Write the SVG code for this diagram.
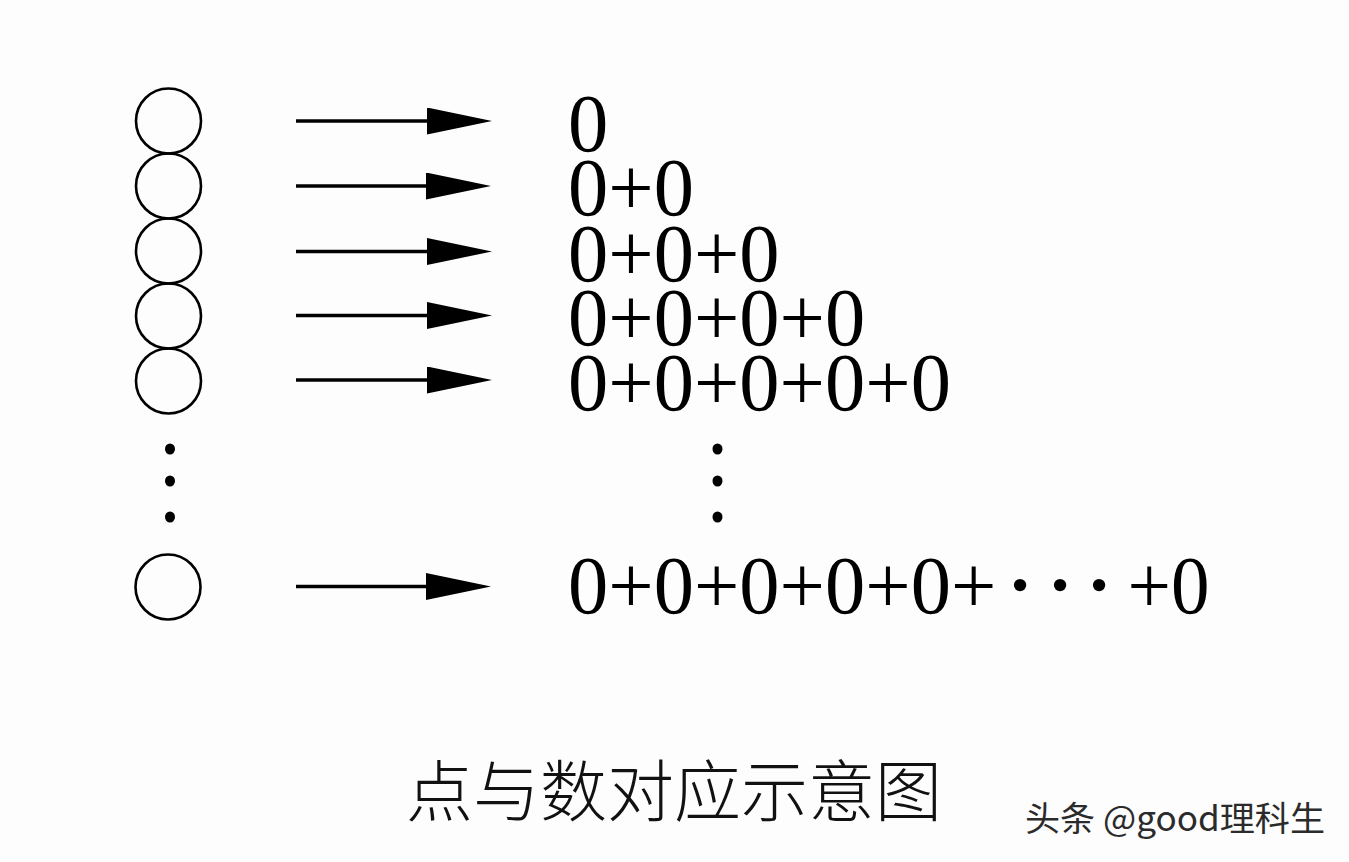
<svg xmlns="http://www.w3.org/2000/svg" width="1349" height="862" viewBox="0 0 1349 862">
<defs>
<style>
.pt{fill:none;stroke:#000;stroke-width:2.6}
.dot{fill:#000}
.arr{stroke:#000;stroke-width:3.4;fill:none;marker-end:url(#head)}
.expr{font-family:"Liberation Serif","Times New Roman",serif;font-size:83px;fill:#000}
.mid{font-family:"Liberation Serif","Times New Roman",serif;font-size:83px;fill:#000;stroke:#000;stroke-width:2.6;text-anchor:middle}
.title{font-family:"Noto Sans CJK SC","Noto Sans",sans-serif;font-size:67px;font-weight:300;fill:#111}
.wm{font-family:"Noto Sans CJK SC","Noto Sans",sans-serif;font-size:34px;fill:#2b2b2b}
</style>
<marker id="head" markerUnits="userSpaceOnUse" viewBox="0 0 65 27" refX="0" refY="13.5" markerWidth="65" markerHeight="27" orient="auto">
<path d="M0,0 L65,13.5 L0,27 Z" fill="#000"/>
</marker>
</defs>
<rect width="1349" height="862" fill="#fdfdfd"/>

<g id="points">
<circle id="p1" class="pt" cx="168.5" cy="121" r="32.5"/>
<circle id="p2" class="pt" cx="168.5" cy="186" r="32.5"/>
<circle id="p3" class="pt" cx="168.5" cy="251" r="32.5"/>
<circle id="p4" class="pt" cx="168.5" cy="316" r="32.5"/>
<circle id="p5" class="pt" cx="168.5" cy="381" r="32.5"/>
<g id="vdots-left">
<ellipse class="dot" cx="170" cy="449" rx="5" ry="5.5"/>
<ellipse class="dot" cx="170" cy="481" rx="5" ry="5.5"/>
<ellipse class="dot" cx="170" cy="517" rx="5" ry="5.5"/>
</g>
<circle id="pn" class="pt" cx="168" cy="587" r="32.5"/>
</g>

<g id="connectors">
<line class="arr" x1="296" y1="121" x2="427" y2="121"/>
<line class="arr" x1="296" y1="186" x2="426" y2="186"/>
<line class="arr" x1="296" y1="251.5" x2="427" y2="251.5"/>
<line class="arr" x1="296" y1="315.5" x2="427" y2="315.5"/>
<line class="arr" x1="296" y1="380" x2="427" y2="380"/>
<line class="arr" x1="296" y1="586.5" x2="426" y2="586.5"/>
</g>

<g id="sums">
<text id="s1" class="expr" x="568" y="150.5" textLength="40.3" lengthAdjust="spacingAndGlyphs">0</text>
<text id="s2" class="expr" x="568" y="215" textLength="125.9" lengthAdjust="spacingAndGlyphs">0+0</text>
<text id="s3" class="expr" x="568" y="280.5" textLength="211.6" lengthAdjust="spacingAndGlyphs">0+0+0</text>
<text id="s4" class="expr" x="568" y="345" textLength="297.2" lengthAdjust="spacingAndGlyphs">0+0+0+0</text>
<text id="s5" class="expr" x="568" y="409.5" textLength="382.9" lengthAdjust="spacingAndGlyphs">0+0+0+0+0</text>
<g id="vdots-right">
<ellipse class="dot" cx="717.5" cy="449" rx="5" ry="5.5"/>
<ellipse class="dot" cx="717.5" cy="481" rx="5" ry="5.5"/>
<ellipse class="dot" cx="717.5" cy="517" rx="5" ry="5.5"/>
</g>
<g id="sn">
<text class="expr" x="568" y="613" textLength="428.3" lengthAdjust="spacingAndGlyphs">0+0+0+0+0+</text>
<text class="mid" y="613"><tspan x="1020">·</tspan><tspan x="1060">·</tspan><tspan x="1099">·</tspan></text>
<text class="expr" x="1127.5" y="613" textLength="82" lengthAdjust="spacingAndGlyphs">+0</text>
</g>
</g>

<text id="title" class="title" x="406" y="816">点与数对应示意图</text>
<text id="watermark" class="wm" x="1025" y="831" textLength="300" lengthAdjust="spacingAndGlyphs">头条 @good理科生</text>
</svg>
